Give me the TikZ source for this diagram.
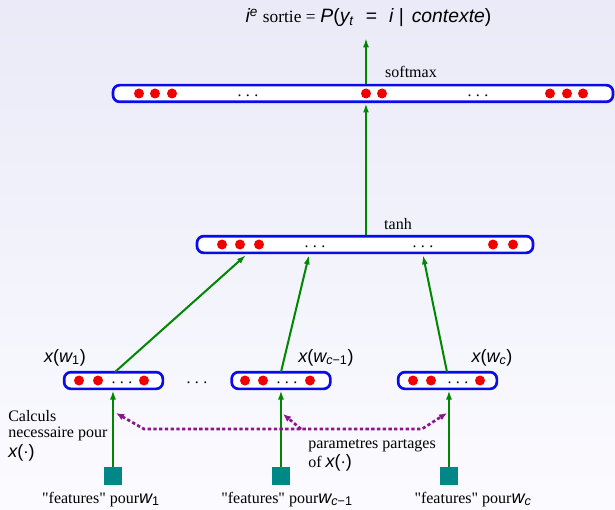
\documentclass[tikz,border=0pt]{standalone}
\usepackage{fontspec}
\setmainfont{Liberation Serif}
\newfontfamily\msf{Liberation Sans}
\usetikzlibrary{arrows.meta}
\definecolor{boxblue}{RGB}{10,10,235}
\definecolor{dotred}{RGB}{240,0,0}
\definecolor{arrgreen}{RGB}{0,135,0}
\definecolor{featteal}{RGB}{0,135,135}
\definecolor{purp}{RGB}{140,20,140}
\definecolor{bgtop}{RGB}{234,234,248}
\definecolor{bgbot}{RGB}{251,251,255}
\newcommand\mv[1]{{\msf\itshape #1}}
\newcommand\mr[1]{{\msf #1}}
\newcommand\myell{.\hspace{3.2pt}.\hspace{3.2pt}.}
\begin{document}
\begin{tikzpicture}[x=0.75pt,y=-0.75pt,
  layer/.style={draw=boxblue,line width=2pt,rounded corners=5pt,fill=white,inner sep=0pt,minimum height=12.5pt},
  feat/.style={fill=featteal,minimum size=13.5pt,inner sep=0pt},
  garrow/.style={draw=arrgreen,line width=1.5pt,-{Latex[length=7pt,width=4.5pt]}},
  pdot/.style={draw=purp,line width=2pt,dash pattern=on 2.5pt off 1.8pt,{Latex[length=6pt,width=5pt]}-{Latex[length=6pt,width=5pt]}},
  pdotone/.style={draw=purp,line width=2pt,dash pattern=on 2.5pt off 1.8pt,-{Latex[length=6pt,width=5pt]}},
  lbl/.style={font=\fontsize{12}{14}\selectfont,inner sep=0pt},
  mlbl/.style={font=\fontsize{13.5}{15}\selectfont,inner sep=0pt},
  tlbl/.style={font=\fontsize{14.5}{16}\selectfont,inner sep=0pt},
  ell/.style={inner sep=0pt,font=\fontsize{12}{12}\selectfont}]
\shade[top color=bgtop,bottom color=bgbot] (0,0) rectangle (615,510);
\useasboundingbox (0,0) rectangle (615,510);

% layers
\node[layer,minimum width=375pt] (top) at (363,93.5) {};
\node[layer,minimum width=252pt] (tanh) at (365,244.5) {};
\node[layer,minimum width=74pt] (b1) at (113.5,380.5) {};
\node[layer,minimum width=74pt] (b2) at (281,380.5) {};
\node[layer,minimum width=74pt] (b3) at (447.5,380.5) {};

% dots
\foreach \x in {139,155,172,366,382,550,567,583} \fill[dotred] (\x,93.5) circle (3.75pt);
\foreach \x in {222,240,259,493,513} \fill[dotred] (\x,244.5) circle (3.75pt);
\foreach \x in {79,98,144,245,263,310,413,431,480} \fill[dotred] (\x,380.5) circle (3.75pt);
\node[ell] (e1) at (248,95.5) {\myell};
\node[ell] (e2) at (478,95.5) {\myell};
\node[ell] (e3) at (315,246.5) {\myell};
\node[ell] (e4) at (423,246.5) {\myell};
\node[ell] (e5) at (122,382.5) {\myell};
\node[ell] (e6) at (287,382.5) {\myell};
\node[ell] (e7) at (458,382.5) {\myell};
\node[ell] (e8) at (197,382.5) {\myell};

% features
\node[feat] (f1) at (113,476) {};
\node[feat] (f2) at (281,476) {};
\node[feat] (f3) at (449,476) {};

% arrows
\coordinate (out) at (366,38);
\draw[garrow] (out |- top.north) -- (out);
\draw[garrow] (out |- tanh.north) -- (out |- top.south);
\coordinate (t1) at (246,255);
\coordinate (t2) at (309,255);
\coordinate (t3) at (423,255);
\coordinate (s1) at (115,372);
\coordinate (s2) at (281,372);
\coordinate (s3) at (447,372);
\draw[garrow] (s1) -- (t1);
\draw[garrow] (s2) -- (t2);
\draw[garrow] (s3) -- (t3);
\draw[garrow] (f1.north) -- (f1.north |- b1.south);
\draw[garrow] (f2.north) -- (f2.north |- b2.south);
\draw[garrow] (f3.north) -- (f3.north |- b3.south);

% shared params dotted
\coordinate (a1) at (116,413);
\coordinate (a2) at (283,414);
\coordinate (a3) at (447,413);
\coordinate (p1) at (144,429);
\coordinate (p2) at (301,429);
\coordinate (p3) at (422,429);
\draw[pdot] (a1) -- (p1) -- (p3) -- (a3);
\draw[pdotone] (p2) -- (a2);

% labels
\node[tlbl,anchor=base] (title) at (368.5,23) {\mv{i}\textsuperscript{\mv{e}} {\fontsize{13}{14}\selectfont sortie =} \mv{P}\mr{(}\mv{y}\textsubscript{\mv{t}}\hspace{9pt}\mr{=}\hspace{9pt}\mv{i}\hspace{4pt}\mr{|}\hspace{6pt}\mv{contexte}\mr{)}};
\node[lbl,anchor=base] (sm) at (411,78) {softmax};
\node[lbl,anchor=base] (th) at (398,229) {tanh};
\node[mlbl,anchor=base] (x1) at (65,362) {\mv{x}\mr{(}\mv{w}\textsubscript{\msf 1}\mr{)}};
\node[mlbl,anchor=base] (x2) at (326,362) {\mv{x}\mr{(}\mv{w}\textsubscript{\mv{c}\msf −1}\mr{)}};
\node[mlbl,anchor=base] (x3) at (492,362) {\mv{x}\mr{(}\mv{w}\textsubscript{\mv{c}}\mr{)}};
\node[lbl,anchor=base west] (calc1) at (8,421) {Calculs};
\node[lbl,anchor=base west] (calc2) at (8,437) {necessaire pour};
\node[mlbl,anchor=base west] (calc3) at (8,457) {\mv{x}\mr{(}$\cdot$\mr{)}};
\node[lbl,anchor=base west] (par1) at (308,448) {parametres partages};
\node[lbl,anchor=base west] (par2) at (308,467) {of {\fontsize{13.5}{15}\selectfont\mv{x}\mr{(}$\cdot$\mr{)}}};
\node[lbl,anchor=base] (fl1) at (101,503) {\textquotedbl features\textquotedbl{} pour{\fontsize{13.5}{15}\selectfont\mv{w}\textsubscript{\msf 1}}};
\node[lbl,anchor=base] (fl2) at (287,503) {\textquotedbl features\textquotedbl{} pour{\fontsize{13.5}{15}\selectfont\mv{w}\textsubscript{\mv{c}\msf −1}}};
\node[lbl,anchor=base] (fl3) at (473,503) {\textquotedbl features\textquotedbl{} pour{\fontsize{13.5}{15}\selectfont\mv{w}\textsubscript{\mv{c}}}};
\end{tikzpicture}
\end{document}
